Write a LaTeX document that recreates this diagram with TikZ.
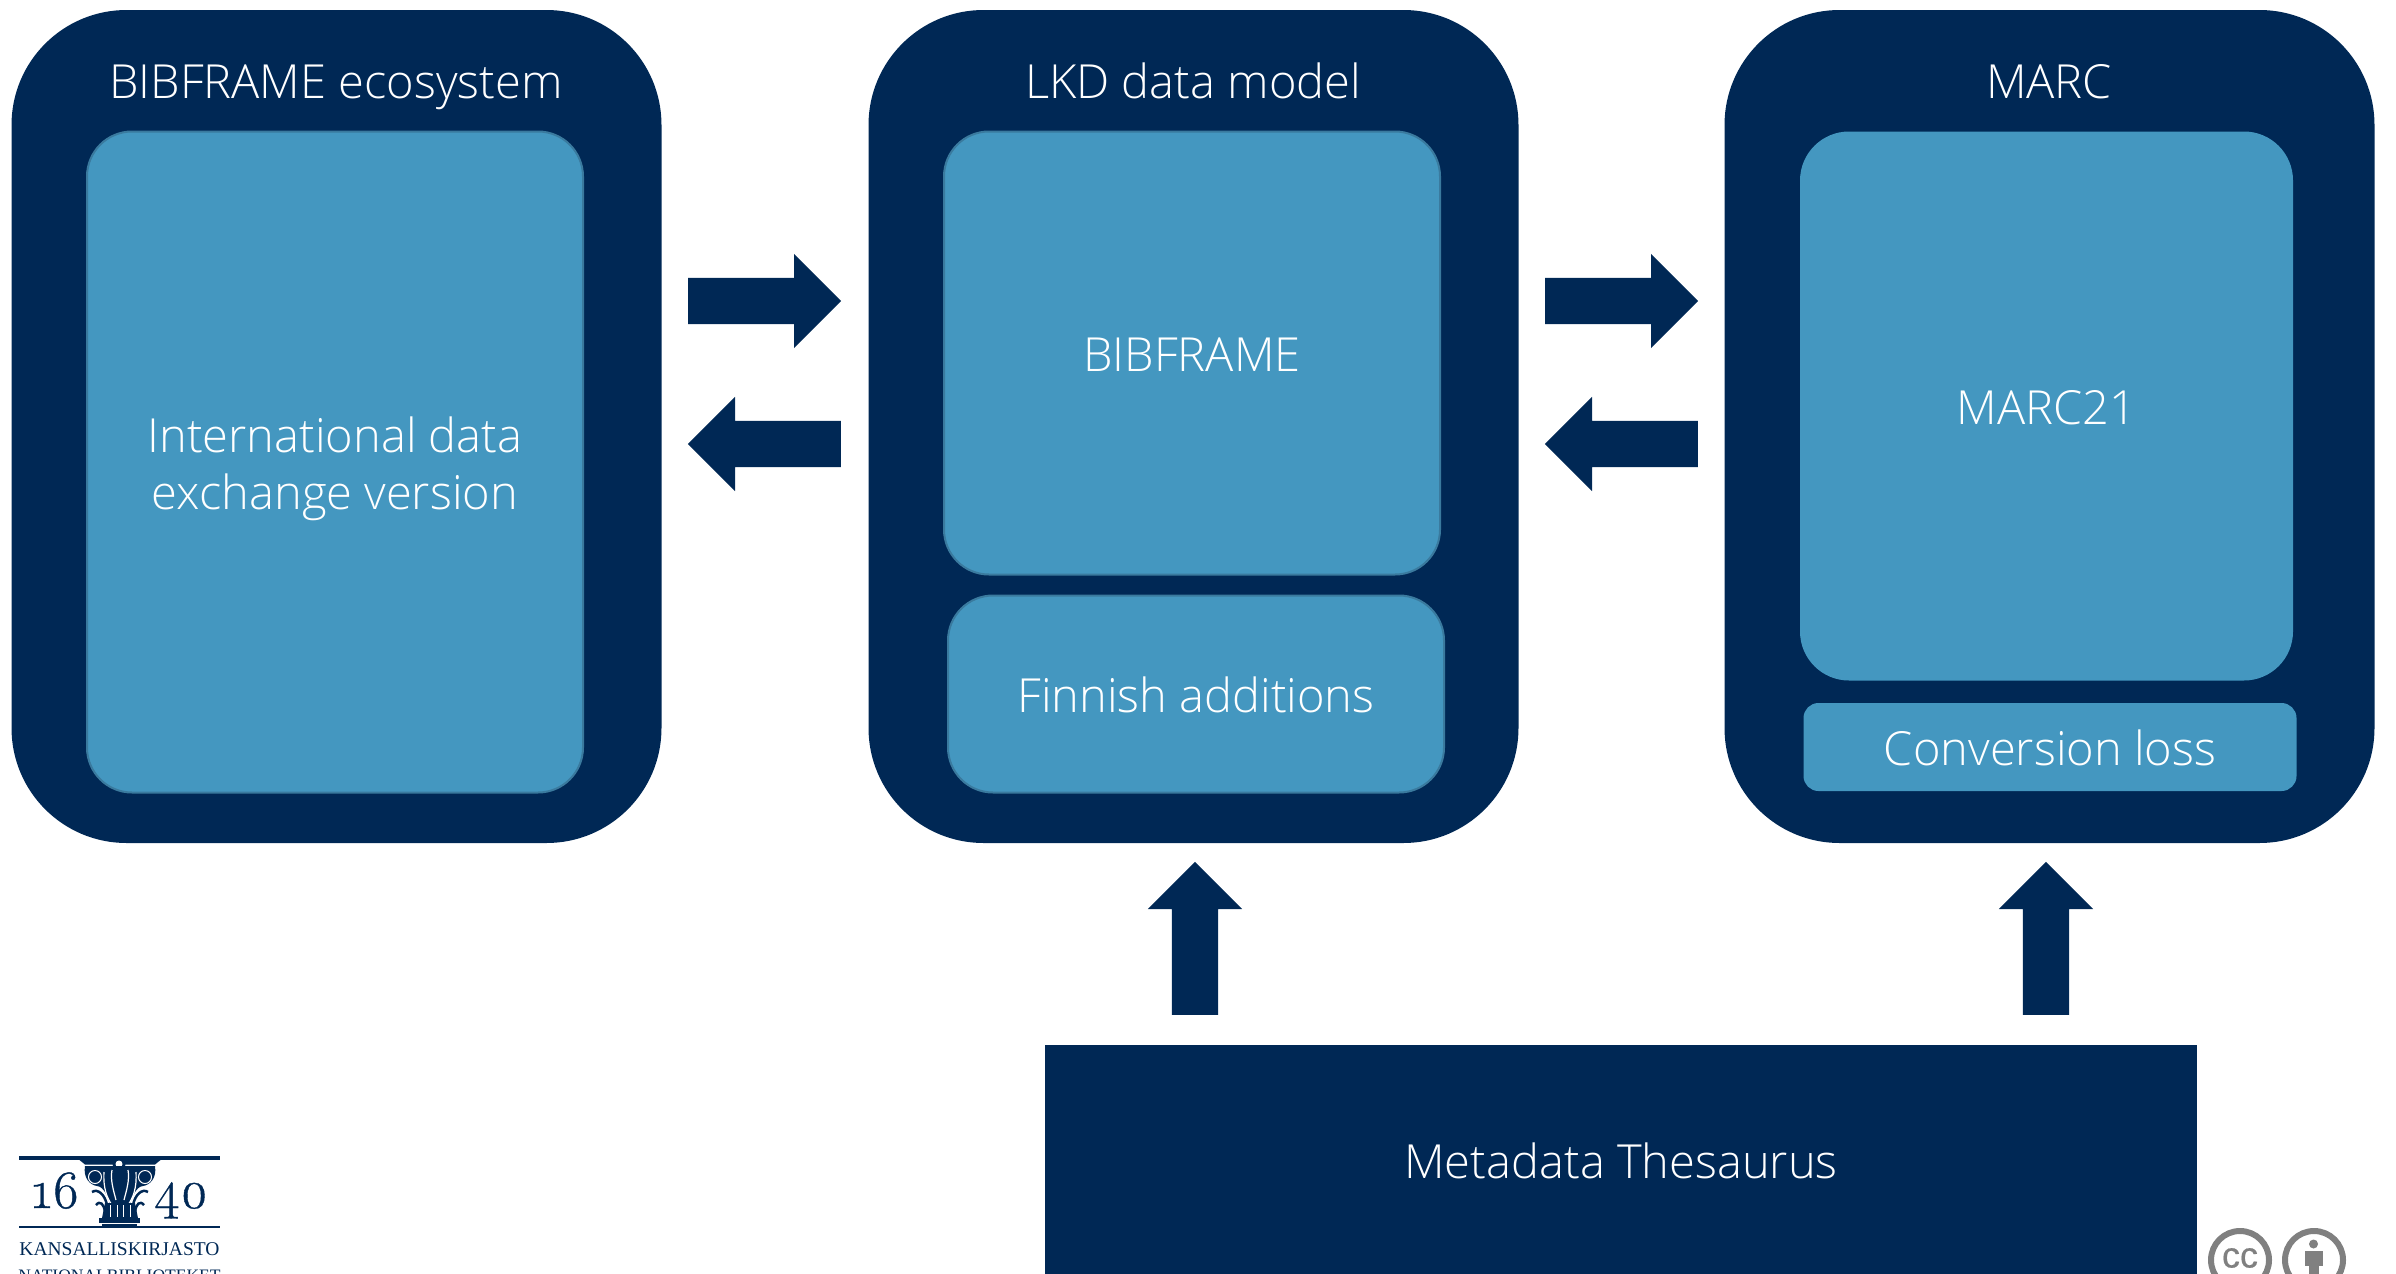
\documentclass[tikz,border=0pt]{standalone}
\usepackage{fontspec}
\setmainfont{Open Sans Light}
\newfontfamily\logofont{Liberation Serif}
\newfontfamily\logodigits[Numbers=OldStyle,FakeBold=0.7]{Latin Modern Roman}
\newfontfamily\ccfont[FakeBold=0.5]{Liberation Sans}
\usetikzlibrary{shapes.arrows}
\definecolor{navy}{HTML}{002855}
\definecolor{lblue}{HTML}{4497C0}
\definecolor{lborder}{HTML}{3A7A9E}
\definecolor{ccgrey}{HTML}{808080}
\tikzset{
  x=1pt,y=-1pt,
  outerbox/.style={fill=navy,draw=none,rounded corners=115pt,minimum width=650pt,minimum height=833pt,inner sep=0pt},
  innerbox/.style={fill=lblue,draw=lborder,line width=2pt,rounded corners=45pt,inner sep=0pt,text=white,align=center,font=\fontsize{47}{57}\selectfont},
  oneline/.style={text height=46pt,text depth=9.4pt},
  plainbox/.style={innerbox,draw=lblue},
  title/.style={text=white,inner sep=0pt,anchor=base,font=\fontsize{47}{50}\selectfont},
  blockarrow/.style={single arrow,fill=navy,draw=none,inner xsep=0pt,inner ysep=23pt,anchor=tail,minimum height=153pt,single arrow head extend=24pt,single arrow head indent=0pt,single arrow tip angle=90},
  ccring/.style={draw=ccgrey,line width=6pt,circle,minimum size=58pt,inner sep=0pt},
}
\begin{document}
\begin{tikzpicture}
\useasboundingbox (0,0) rectangle (2396,1274);
\clip (0,0) rectangle (2396,1274);
% outer boxes
\node[outerbox] (eco) at (336.5,426.5) {};
\node[outerbox] (lkd) at (1193.5,426.5) {};
\node[outerbox] (marc) at (2049.5,426.5) {};
\node[title] (ecotitle) at (336,98) {BIBFRAME ecosystem};
\node[title] (lkdtitle) at (1193,98) {LKD data model};
\node[title] (marctitle) at (2049,98) {MARC};
% inner boxes
\node[innerbox,minimum width=496pt,minimum height=661pt] (intl) at (335,462) {\rule{0pt}{49pt}International data\\exchange version};
\node[innerbox,oneline,minimum width=496pt,minimum height=443pt] (bf) at (1192,353) {BIBFRAME};
\node[innerbox,oneline,minimum width=496pt,minimum height=197pt] (fin) at (1196,694) {Finnish additions};
\node[plainbox,oneline,minimum width=491pt,minimum height=547pt,rounded corners=48pt] (m21) at (2046.5,406) {MARC21};
\node[plainbox,oneline,minimum width=491pt,minimum height=86pt,rounded corners=14pt] (loss) at (2050,747) {Conversion loss};
% thesaurus
\node[fill=navy,text=white,inner sep=0pt,minimum width=1152pt,minimum height=232pt,font=\fontsize{47}{50}\selectfont] (thes) at (1621,1161) {Metadata Thesaurus};
% block arrows
\node[blockarrow] (a1) at (688,301) {};
\node[blockarrow,rotate=180] (a2) at (841,444) {};
\node[blockarrow] (a3) at (1545,301) {};
\node[blockarrow,rotate=180] (a4) at (1698,444) {};
\node[blockarrow,rotate=90] (a5) at (1195,1015) {};
\node[blockarrow,rotate=90] (a6) at (2046,1015) {};
% logo
\draw[navy,line width=4pt] (19,1158) -- (220,1158);
\draw[navy,line width=1.6pt] (19,1227) -- (220,1227);
\fill[navy] (77,1158) -- (163,1158) -- (155,1164.5) -- (85,1164.5) -- cycle;
\fill[navy] (119,1164) circle (6.5);
\fill[white] (119,1164) circle (3.5);
% capital
\fill[navy] (85,1166) -- (155,1166) .. controls (157,1178) and (150,1185) .. (143,1186) .. controls (136,1186) and (130,1200) .. (128,1212) -- (112,1212) .. controls (110,1200) and (104,1186) .. (97,1186) .. controls (90,1185) and (83,1178) .. (85,1166) -- cycle;
\draw[white,line width=1pt] (95,1177) circle (6.5);
\draw[white,line width=1pt] (145,1177) circle (6.5);
\fill[navy] (95,1177) circle (2);
\fill[navy] (145,1177) circle (2);
\draw[white,line width=1.2pt] (104,1172) .. controls (103,1188) and (107,1198) .. (112,1205);
\draw[white,line width=1.2pt] (136,1172) .. controls (137,1188) and (133,1198) .. (128,1205);
\draw[white,line width=1.2pt] (112,1170) .. controls (110,1180) and (114,1192) .. (116,1200);
\draw[white,line width=1.2pt] (128,1170) .. controls (130,1180) and (126,1192) .. (124,1200);
\draw[navy,line width=2.5pt] (92,1192) .. controls (98,1188) and (105,1195) .. (107,1205);
\draw[navy,line width=2.5pt] (148,1192) .. controls (142,1188) and (135,1195) .. (133,1205);
\draw[navy,line width=2.5pt] (96,1205) .. controls (100,1200) and (104,1204) .. (105,1212);
\draw[navy,line width=2.5pt] (144,1205) .. controls (140,1200) and (136,1204) .. (135,1212);
\fill[navy] (105,1203) -- (135,1203) -- (138,1218) -- (102,1218) -- cycle;
\draw[white,line width=1pt] (110,1205) -- (110,1217) (117,1205) -- (117,1217) (123,1205) -- (123,1217) (130,1205) -- (130,1217);
\fill[navy] (99,1218) rectangle (140,1223);
\fill[navy] (102,1224) rectangle (137,1227);
\node[text=navy,inner sep=0pt,anchor=base,font=\logodigits\fontsize{54}{54}\selectfont] (y16) at (56,1208) {16};
\node[text=navy,inner sep=0pt,anchor=base,font=\logodigits\fontsize{54}{54}\selectfont] (y40) at (181,1208) {40};
\node[text=navy,inner sep=0pt,anchor=base,font=\logofont\fontsize{19.5}{22}\selectfont] (kk) at (119.5,1255) {KANSALLISKIRJASTO};
\node[text=navy,inner sep=0pt,anchor=base,font=\logofont\fontsize{17.5}{22}\selectfont] (nb) at (119.5,1281) {NATIONALBIBLIOTEKET};
% cc
\node[ccring] (cc) at (2240,1260) {};
\node[ccring] (by) at (2314,1260) {};
\node[text=ccgrey,inner sep=0pt,font=\ccfont\fontsize{36}{36}\selectfont] (cctext) at (2240,1258) {cc};
\fill[ccgrey] (2313.5,1244) circle (4.5);
\fill[ccgrey] (2305,1251) rectangle (2323,1266);
\fill[ccgrey] (2309,1266) rectangle (2319,1280);
\end{tikzpicture}
\end{document}
